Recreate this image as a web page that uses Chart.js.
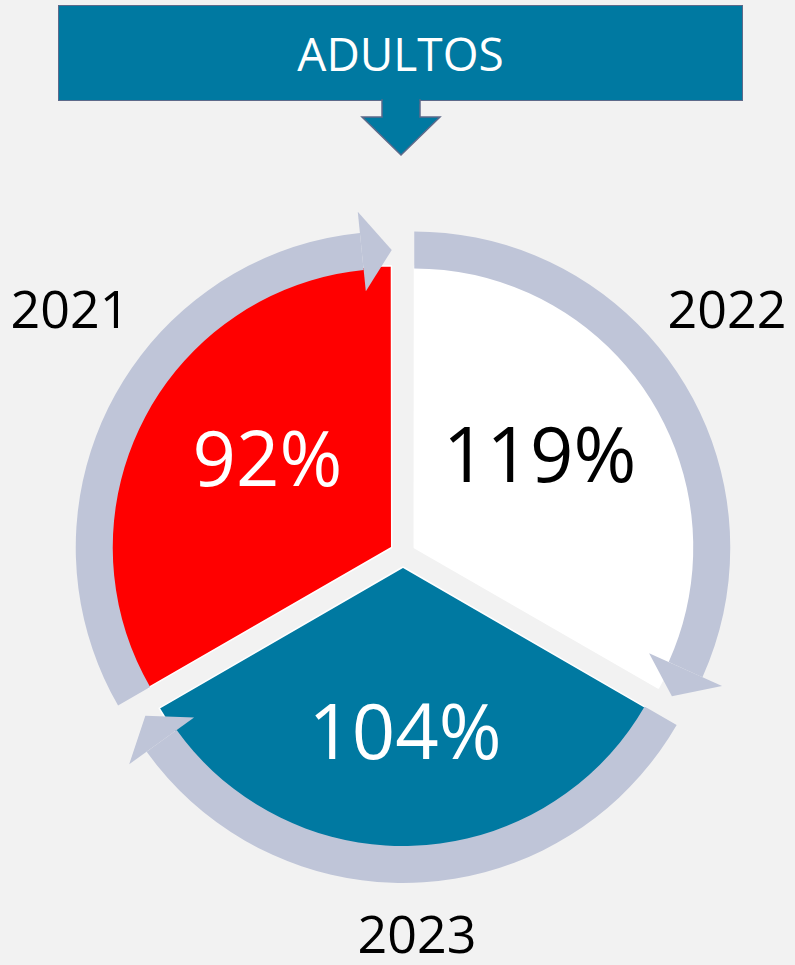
<!DOCTYPE html>
<html>
<head>
<meta charset="utf-8">
<script src="https://cdn.jsdelivr.net/npm/chart.js@4/dist/chart.umd.min.js"></script>
<style>
  body { margin: 0; background: #F2F2F2; width: 795px; height: 965px; overflow: hidden; position: relative; font-family: 'Open Sans', sans-serif; }
  #header { position: absolute; left: 58px; top: 5px; width: 683px; height: 94px; background: #0079A1; border: 1.5px solid #5E6A8A; color: #FFFFFF; font-size: 46px; text-align: center; line-height: 94px; }
  #pointer { position: absolute; left: 0; top: 0; }
  #chart { position: absolute; left: 0; top: 0; }
</style>
</head>
<body>
<div id="header">ADULTOS</div>
<svg id="pointer" width="795" height="170">
  <polygon points="382,100 420,100 420,117 440,117 401,155 362,117 382,117" fill="#0079A1" stroke="#5E6A8A" stroke-width="1.5"/>
  <rect x="382.8" y="99" width="36.4" height="5" fill="#0079A1"/>
</svg>
<canvas id="chart" width="795" height="965"></canvas>
<script>
// years go round clockwise, starting at 8 o'clock
var years = ["2021", "2022", "2023"];
// the three slices are drawn the same size
var shares = [1, 1, 1];
var percents = [92, 119, 104];

var sliceColors = ["#FF0000", "#FFFFFF", "#0079A1"];
var valueColors = ["#FFFFFF", "#000000", "#FFFFFF"];
var ringColor = "#BFC5D8";

// where the year labels sit, measured from the pie centre
var yearSpots = [[-333, -241], [324, -241], [14, 384]];
// small shifts of the values off the slice bisector
var valueNudge = [[9, -6], [-8, -10], [2, 16]];

var cycleArrows = {
    id: 'cycleArrows',
    afterDatasetsDraw: function (chart) {
        var ctx = chart.ctx;
        var arcs = chart.getDatasetMeta(0).data;
        ctx.save();
        arcs.forEach(function (el, i) {
            var a0 = el.startAngle, a1 = el.endAngle, mid = (a0 + a1) / 2;
            var off = (el.options.offset || 0) / 4;
            var cx = el.x + Math.cos(mid) * off;
            var cy = el.y + Math.sin(mid) * off;
            var r = el.outerRadius;
            var rIn = r - 1, rOut = r + 36, rMid = (rIn + rOut) / 2;
            var head = 30 / rMid;
            var aBase = a1 - head;

            // ring body
            ctx.beginPath();
            ctx.arc(cx, cy, rOut, a0, aBase);
            ctx.arc(cx, cy, rIn, aBase, a0, true);
            ctx.closePath();
            ctx.fillStyle = ringColor;
            ctx.fill();

            // arrow head
            var bIn = rMid - 40, bOut = rMid + 40;
            ctx.beginPath();
            ctx.moveTo(cx + Math.cos(aBase) * bOut, cy + Math.sin(aBase) * bOut);
            ctx.lineTo(cx + Math.cos(a1) * rMid, cy + Math.sin(a1) * rMid);
            ctx.lineTo(cx + Math.cos(aBase) * bIn, cy + Math.sin(aBase) * bIn);
            ctx.closePath();
            ctx.fill();

            // value in the slice
            var lr = r * 0.55;
            ctx.fillStyle = valueColors[i];
            ctx.font = '76px "Open Sans"';
            ctx.textAlign = 'center';
            ctx.textBaseline = 'middle';
            ctx.fillText(percents[i] + '%',
                cx + Math.cos(mid) * lr + valueNudge[i][0],
                cy + Math.sin(mid) * lr + valueNudge[i][1]);

            // year outside
            ctx.fillStyle = '#000000';
            ctx.font = '52px "Open Sans"';
            ctx.fillText(years[i], el.x + yearSpots[i][0], el.y + yearSpots[i][1]);
        });
        ctx.restore();
    }
};

new Chart("chart", {
    type: "pie",
    data: {
        labels: years,
        datasets: [{
            data: shares,
            backgroundColor: sliceColors,
            borderColor: "#FFFFFF",
            borderWidth: 1.5,
            offset: 52,
            hoverOffset: 52
        }]
    },
    options: {
        responsive: false,
        animation: false,
        events: [],
        rotation: -120,
        radius: 280,
        layout: { padding: { left: 11, top: 143, right: 0, bottom: 0 } },
        plugins: {
            legend: { display: false },
            tooltip: { enabled: false }
        }
    },
    plugins: [cycleArrows]
});
</script>
</body>
</html>
